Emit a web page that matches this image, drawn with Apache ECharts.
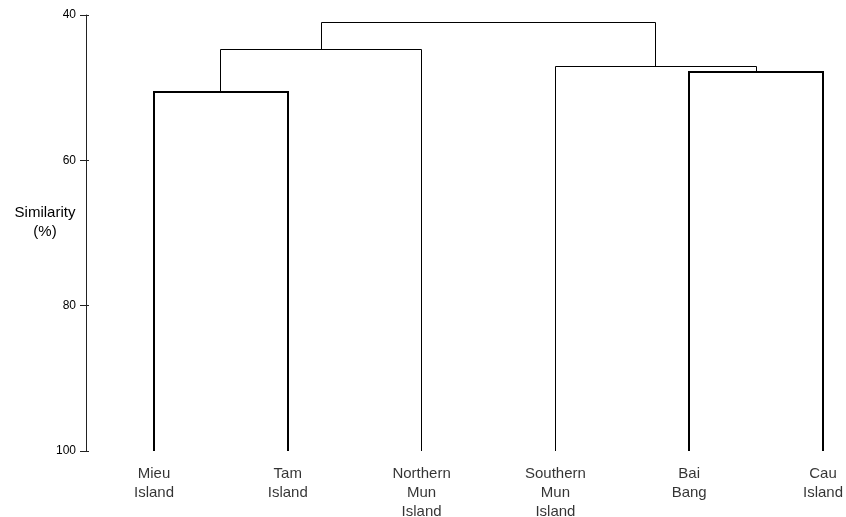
<!DOCTYPE html>
<html>
<head>
<meta charset="utf-8">
<script src="https://cdn.jsdelivr.net/npm/echarts@6/dist/echarts.min.js"></script>
<style>html,body{margin:0;padding:0;background:#fff}#c{width:846px;height:517px}</style>
</head>
<body>
<div id="c"></div>
<script>
// Leaves (left to right)
const leafLabels = ['Mieu\nIsland', 'Tam\nIsland', 'Northern\nMun\nIsland', 'Southern\nMun\nIsland', 'Bai\nBang', 'Cau\nIsland'];
// Merges: [childA, childB, similarity]; clusters 0-5 are leaves, 6+ are merges in order
const mergeLeft = [0, 6, 4, 3, 7];
const mergeRight = [1, 2, 5, 8, 9];
const mergeHeight = [50.6, 44.7, 47.9, 47.1, 41.1];
const yTicks = [40, 60, 80, 100];
const yTitle = 'Similarity\n(%)';

const thickMerges = [0, 2];

// Build cluster positions
const pos = leafLabels.map((_, i) => ({x: i, h: 100}));
const segs = [];
for (let k = 0; k < mergeLeft.length; k++) {
  const a = pos[mergeLeft[k]], b = pos[mergeRight[k]];
  segs.push([a.x, a.h, b.x, b.h, mergeHeight[k], k]);
  pos.push({x: (a.x + b.x) / 2, h: mergeHeight[k]});
}

const chart = echarts.init(document.getElementById('c'), null, {renderer: 'canvas'});
const yBase = {
  type: 'value', inverse: true, min: yTicks[0], max: yTicks[yTicks.length - 1], interval: 20,
  splitLine: {show: false}, position: 'left', offset: 0
};
chart.setOption({
  animation: false,
  backgroundColor: '#fff',
  grid: {left: 86, right: 23, top: 15, bottom: 66},
  xAxis: {type: 'value', min: -0.508, max: 5, show: false},
  yAxis: [
    Object.assign({}, yBase, {
      axisLine: {show: true, onZero: false, lineStyle: {color: '#222', width: 1}},
      axisTick: {show: true, length: 6, lineStyle: {color: '#222'}},
      axisLabel: {color: '#000', fontFamily: 'Liberation Sans', fontSize: 12, margin: 10,
        formatter: v => yTicks.includes(v) ? String(v) : ''}
    }),
    Object.assign({}, yBase, {
      axisLine: {show: false, onZero: false},
      axisTick: {show: true, inside: true, length: 3, lineStyle: {color: '#222'}},
      axisLabel: {show: false}
    })
  ],
  graphic: [{
    type: 'text', x: 45, y: 203,
    style: {text: yTitle, fill: '#000', font: '15px "Liberation Sans"', textAlign: 'center', lineHeight: 19},
  }],
  series: [
    {
      type: 'custom',
      coordinateSystem: 'cartesian2d',
      data: segs,
      encode: {x: [0, 2], y: [1, 3, 4]},
      renderItem: function (params, api) {
        const p1 = api.coord([api.value(0), api.value(1)]);
        const p2 = api.coord([api.value(0), api.value(4)]);
        const p3 = api.coord([api.value(2), api.value(4)]);
        const p4 = api.coord([api.value(2), api.value(3)]);
        const thick = thickMerges.includes(api.value(5));
        const w = thick ? 2 : 1;
        const r = v => thick ? Math.round(v) : Math.round(v - 0.5) + 0.5;
        return {
          type: 'polyline',
          shape: {points: [[r(p1[0]), p1[1]], [r(p2[0]), r(p2[1])], [r(p3[0]), r(p3[1])], [r(p4[0]), p4[1]]]},
          style: {stroke: '#000', lineWidth: w, fill: null}
        };
      }
    },
    {
      type: 'scatter',
      symbolSize: 0,
      data: leafLabels.map((t, i) => ({value: [i, 100], name: t})),
      label: {
        show: true, position: 'bottom', distance: 13,
        formatter: p => p.name,
        color: '#000', fontFamily: 'Liberation Sans', fontSize: 15, lineHeight: 19, align: 'center'
      },
      silent: true
    }
  ]
});
</script>
</body>
</html>
